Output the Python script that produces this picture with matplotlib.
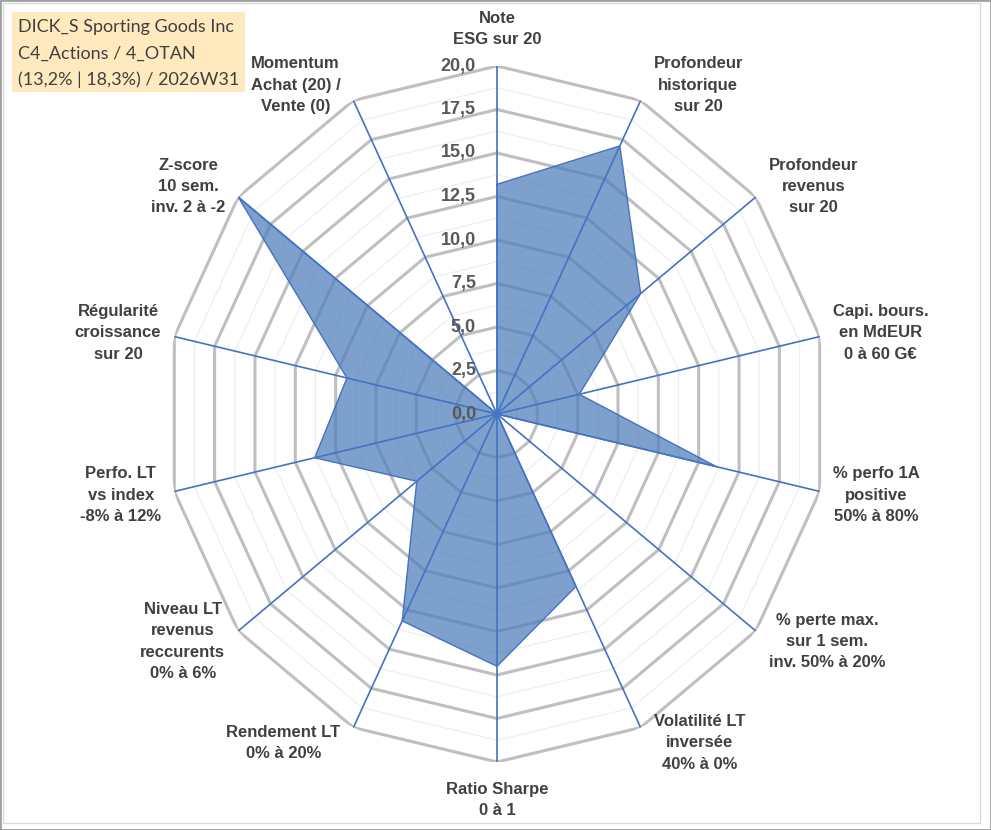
import numpy as np
import matplotlib
matplotlib.use("Agg")
import matplotlib.pyplot as plt
from matplotlib.patches import Rectangle

# ---------------- data ----------------
categories = [
    "Note\nESG sur 20",
    "Profondeur\nhistorique\nsur 20",
    "Profondeur\nrevenus\nsur 20",
    "Capi. bours.\nen MdEUR\n0 à 60 G€",
    "% perfo 1A\npositive\n50% à 80%",
    "% perte max.\nsur 1 sem.\ninv. 50% à 20%",
    "Volatilité LT\ninversée\n40% à 0%",
    "Ratio Sharpe\n0 à 1",
    "Rendement LT\n0% à 20%",
    "Niveau LT\nrevenus\nreccurents\n0% à 6%",
    "Perfo. LT\nvs index\n-8% à 12%",
    "Régularité\ncroissance\nsur 20",
    "Z-score\n10 sem.\ninv. 2 à -2",
    "Momentum\nAchat (20) /\nVente (0)",
]
values = [13.2, 17.1, 11.1, 5.1, 13.6, 0.0, 11.0, 14.5, 13.2, 6.2, 11.3, 9.3, 20.0, 0.0]

r_max = 20.0
major_levels = [2.5, 5.0, 7.5, 10.0, 12.5, 15.0, 17.5, 20.0]
minor_levels = [1.25, 3.75, 6.25, 8.75, 11.25, 13.75, 16.25, 18.75]
tick_values = [0.0, 2.5, 5.0, 7.5, 10.0, 12.5, 15.0, 17.5, 20.0]
tick_labels = ["0,0", "2,5", "5,0", "7,5", "10,0", "12,5", "15,0", "17,5", "20,0"]

title_lines = [
    "DICK_S Sporting Goods Inc",
    "C4_Actions / 4_OTAN",
    "(13,2% | 18,3%) / 2026W31",
]

# ---------------- figure ----------------
W, H, DPI = 991, 830, 100
PT = 72.0 / DPI  # px -> points
fig = plt.figure(figsize=(W / DPI, H / DPI), dpi=DPI)
fig.patch.set_facecolor("white")

cx, cy, rx, ry = 497, 414, 331, 348
ax = fig.add_axes([(cx - rx) / W, (H - cy - ry) / H, 2 * rx / W, 2 * ry / H],
                  projection="polar")
ax.set_aspect("auto")
ax.set_theta_zero_location("N")
ax.set_theta_direction(-1)
ax.set_ylim(0, r_max)
ax.grid(False)
ax.set_xticks([])
ax.set_yticks([])
ax.spines["polar"].set_visible(False)
ax.patch.set_visible(False)

n = len(categories)
theta = np.arange(n) * 2 * np.pi / n
theta_c = np.append(theta, theta[0])

for lv in minor_levels:
    ax.plot(theta_c, [lv] * (n + 1), color="#EDEDED", lw=0.8, zorder=1)
for lv in major_levels:
    ax.plot(theta_c, [lv] * (n + 1), color="#BFBFBF", lw=2.2, zorder=2,
            solid_joinstyle="miter")

vals_c = values + values[:1]
ax.fill(theta_c, vals_c, color="#5080BA", alpha=0.74, lw=0, zorder=3)
ax.plot(theta_c, vals_c, color="#4472C4", lw=1.0, zorder=4)

for t in theta:
    ax.plot([t, t], [0, r_max], color="#4472C4", lw=1.2, zorder=5)

# radial tick labels
for v, lab in zip(tick_values, tick_labels):
    ax.annotate(lab, xy=(0, v), xytext=(-21 * PT, 0), textcoords="offset points",
                ha="right", va="center", fontsize=13, fontweight="bold",
                color="#595959", family="Liberation Sans", zorder=6)

# category labels
for t, lab in zip(theta, categories):
    s, c = np.sin(t), np.cos(t)
    if abs(s) < 0.1:
        ha = "center"
        va = "bottom" if c > 0 else "top"
        dx = 0
        dy = 19 if c > 0 else -20
    else:
        ha = "left" if s > 0 else "right"
        va = "center"
        dx = 13 * np.sign(s)
        dy = 17 * c
    ax.annotate(lab, xy=(t, r_max), xytext=(dx * PT, dy * PT),
                textcoords="offset points", ha=ha, va=va, multialignment="center",
                linespacing=1.52, fontsize=12, fontweight="bold", color="#404040",
                family="Liberation Sans", annotation_clip=False, zorder=6)

# title box
fig.patches.append(Rectangle((12 / W, 1 - 92 / H), 233 / W, 80 / H,
                             transform=fig.transFigure, facecolor="#FFE9BF",
                             edgecolor="none", zorder=0))
for i, line in enumerate(title_lines):
    fig.text(18 / W, 1 - (27 + 26.5 * i) / H, line, ha="left", va="center",
             fontsize=13.0, color="#404040", family="Lato")

# frames
fig.patches.append(Rectangle((3 / W, 1 - 823 / H), 977 / W, 820 / H,
                             transform=fig.transFigure, facecolor="none",
                             edgecolor="#D9D9D9", lw=1.0))
fig.patches.append(Rectangle((0, 0), 1, 1, transform=fig.transFigure,
                             facecolor="none", edgecolor="#A0A0A0", lw=2.0))

fig.savefig("out.png", dpi=DPI)
